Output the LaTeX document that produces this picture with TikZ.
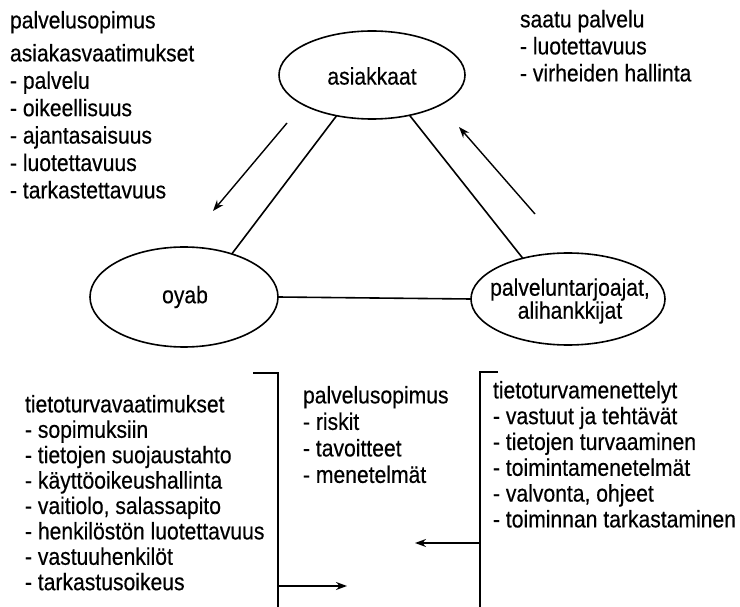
\documentclass[tikz,border=0pt]{standalone}
\usepackage{fontspec}
\setmainfont{Liberation Sans}[FakeStretch=0.88,FakeBold=0.4]
\usetikzlibrary{shapes.geometric,arrows.meta}
\begin{document}
\begin{tikzpicture}[x=1pt,y=-1pt,
  every node/.style={inner sep=0pt, outer sep=0pt},
  txt/.style={anchor=north west, align=left, font=\fontsize{24}{#1}\selectfont},
  txt/.default=27,
  oval/.style={draw, ellipse, line width=1.6pt},
  lbl/.style={align=center, font=\fontsize{24}{23}\selectfont},
  conn/.style={line width=1.6pt},
  arr/.style={line width=1.4pt, -{Stealth[length=11pt,width=8pt]}}
]
\useasboundingbox (0,0) rectangle (740,607);

% ellipses
\node[oval, minimum width=186pt, minimum height=88pt] (A) at (372,75) {};
\node[oval, minimum width=188pt, minimum height=100pt] (O) at (184,297) {};
\node[oval, minimum width=194pt, minimum height=92pt] (P) at (568,299) {};
\node[lbl] (At) at (372,76) {asiakkaat};
\node[lbl] (Ot) at (185,297) {oyab};
\node[lbl] (Pt) at (570,301) {palveluntarjoajat,\\alihankkijat};

% connectors
\draw[conn] (A.229) -- (O.42);
\draw[conn] (A.313) -- (P.138);
\draw[conn] (O.east) -- (P.west);

% free arrows
\coordinate (la1) at (287,123); \coordinate (la2) at (213,211);
\coordinate (ra1) at (535,214); \coordinate (ra2) at (459,127);
\draw[arr] (la1) -- (la2);
\draw[arr] (ra1) -- (ra2);

% text blocks
\node[txt=27.4] (tl) at (10,11) {palvelusopimus\\[5.6pt]asiakasvaatimukset\\- palvelu\\- oikeellisuus\\- ajantasaisuus\\- luotettavuus\\- tarkastettavuus};
\node[txt=27] (tr) at (520,10) {saatu palvelu\\- luotettavuus\\- virheiden hallinta};
\node[txt=25.4] (bl) at (25,395) {tietoturvavaatimukset\\- sopimuksiin\\- tietojen suojaustahto\\- käyttöoikeushallinta\\- vaitiolo, salassapito\\- henkilöstön luotettavuus\\- vastuuhenkilöt\\- tarkastusoikeus};
\node[txt=26.5] (bm) at (303,386) {palvelusopimus\\- riskit\\- tavoitteet\\- menetelmät};
\node[txt=25.8] (br) at (493,381) {tietoturvamenettelyt\\- vastuut ja tehtävät\\- tietojen turvaaminen\\- toimintamenetelmät\\- valvonta, ohjeet\\- toiminnan tarkastaminen};

% brackets
\coordinate (lb1) at (253,373); \coordinate (lb2) at (278,373); \coordinate (lb3) at (278,607);
\coordinate (rb1) at (498,372); \coordinate (rb2) at (480,372); \coordinate (rb3) at (480,607);
\draw[conn] (lb1) -- (lb2) -- (lb3);
\draw[conn] (rb1) -- (rb2) -- (rb3);
\coordinate (lba1) at (278,586); \coordinate (lba2) at (347,586);
\coordinate (rba1) at (480,543); \coordinate (rba2) at (415,543);
\draw[arr] (lba1) -- (lba2);
\draw[arr] (rba1) -- (rba2);
\end{tikzpicture}
\end{document}
